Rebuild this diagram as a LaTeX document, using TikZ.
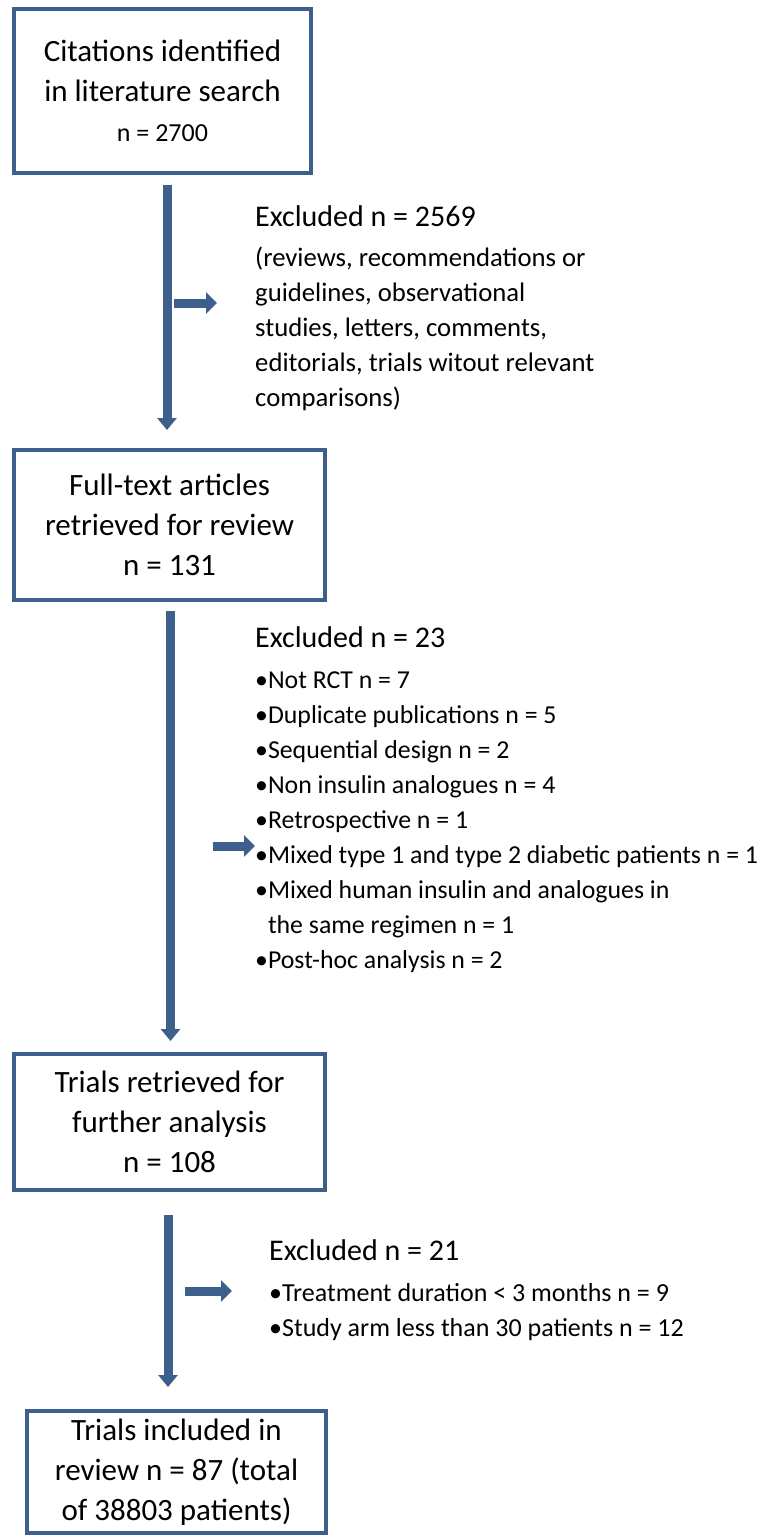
\documentclass[tikz,border=0pt]{standalone}
\usepackage{fontspec}
\setmainfont{Carlito}
\usetikzlibrary{arrows.meta}

\definecolor{flowblue}{RGB}{60,95,140}

\tikzset{
  stage/.style={draw=flowblue, line width=4pt, align=center, inner sep=0pt,
    font=\fontsize{31}{40}\selectfont},
  excl/.style={anchor=base west, align=left, inner sep=0pt},
  downarrow/.style={draw=flowblue, line width=9pt, -{Triangle[width=19pt,length=12pt]}},
  sidearrow/.style={draw=flowblue, line width=9pt, -{Triangle[width=21pt,length=11pt]}},
}

\begin{document}
\begin{tikzpicture}[x=1pt,y=-1pt]
      \useasboundingbox (0,0) rectangle (779,1539);

      % stages
      \node[stage, minimum width=297pt, minimum height=164pt] (cite) at (162.5,91)
        {Citations identified\\in literature search\\{\fontsize{26}{40}\selectfont n = 2700}};
      \node[stage, minimum width=311pt, minimum height=150pt] (full) at (169.5,525)
        {Full-text articles\\retrieved for review\\n = 131};
      \node[stage, minimum width=311pt, minimum height=136pt] (trials) at (169.5,1122)
        {Trials retrieved for\\further analysis\\n = 108};
      \node[stage, minimum width=299pt, minimum height=122pt] (incl) at (176.5,1472)
        {Trials included in\\review n = 87 (total\\of 38803 patients)};

      % exclusions (base = last line)
      \node[excl, font=\fontsize{26.7}{35}\selectfont] (exclA) at (255,406)
        {{\fontsize{30}{36}\selectfont Excluded n = 2569}\\[5pt]
         (reviews, recommendations or\\guidelines, observational\\
         studies, letters, comments,\\editorials, trials witout relevant\\comparisons)};
      \node[excl, font=\fontsize{25.8}{35}\selectfont] (exclB) at (255,968)
        {{\fontsize{30}{36}\selectfont Excluded n = 23}\\[6pt]
         •Not RCT n = 7\\•Duplicate publications n = 5\\•Sequential design n = 2\\
         •Non insulin analogues n = 4\\•Retrospective n = 1\\
         •Mixed type 1 and type 2 diabetic patients n = 1\\
         •Mixed human insulin and analogues in\\\phantom{•}the same regimen n = 1\\
         •Post-hoc analysis n = 2};
      \node[excl, font=\fontsize{26}{35}\selectfont] (exclC) at (269,1336)
        {{\fontsize{30}{36}\selectfont Excluded n = 21}\\[6pt]
         •Treatment duration < 3 months n = 9\\•Study arm less than 30 patients n = 12};

      % flow
      \draw[downarrow, shorten <=10pt, shorten >=18pt] ([xshift=4.5pt]cite.south) -- ([xshift=4.5pt]cite.south |- full.north);
      \draw[downarrow, shorten <=9pt, shorten >=11pt] ([xshift=1pt]full.south) -- ([xshift=1pt]full.south |- trials.north);
      \draw[downarrow, shorten <=23pt, shorten >=22pt] ([xshift=-1.5pt]trials.south) -- ([xshift=-1.5pt]trials.south |- incl.north);

      \coordinate (sideA1) at (174,303);
      \coordinate (sideA2) at (217,303);
      \coordinate (sideB1) at (213,846);
      \coordinate (sideB2) at (255,846);
      \coordinate (sideC1) at (185,1291);
      \coordinate (sideC2) at (232,1291);
      \draw[sidearrow] (sideA1) -- (sideA2);
      \draw[sidearrow] (sideB1) -- (sideB2);
      \draw[sidearrow] (sideC1) -- (sideC2);

    \end{tikzpicture}
\end{document}
